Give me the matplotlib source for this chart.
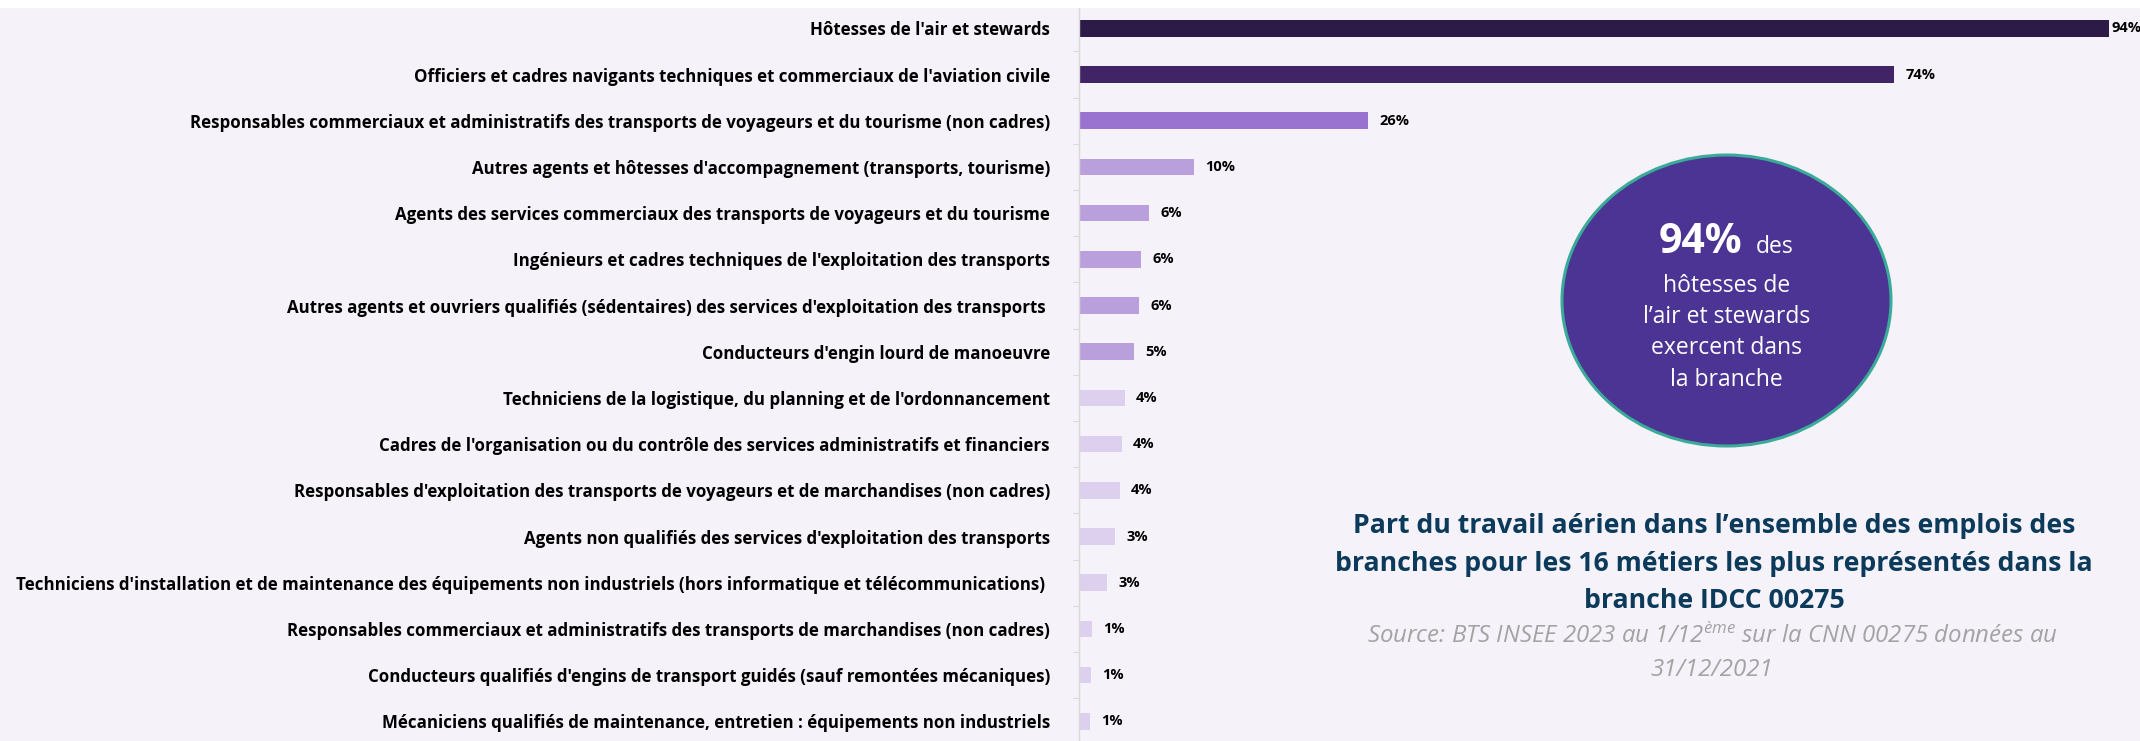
import matplotlib
matplotlib.use("Agg")
import matplotlib.pyplot as plt
from matplotlib.patches import Ellipse, Rectangle
from matplotlib.ticker import FixedLocator

# ---- data -------------------------------------------------------------
metiers = [
    "Hôtesses de l'air et stewards",
    "Officiers et cadres navigants techniques et commerciaux de l'aviation civile",
    "Responsables commerciaux et administratifs des transports de voyageurs et du tourisme (non cadres)",
    "Autres agents et hôtesses d'accompagnement (transports, tourisme)",
    "Agents des services commerciaux des transports de voyageurs et du tourisme",
    "Ingénieurs et cadres techniques de l'exploitation des transports",
    "Autres agents et ouvriers qualifiés (sédentaires) des services d'exploitation des transports ",
    "Conducteurs d'engin lourd de manoeuvre",
    "Techniciens de la logistique, du planning et de l'ordonnancement",
    "Cadres de l'organisation ou du contrôle des services administratifs et financiers",
    "Responsables d'exploitation des transports de voyageurs et de marchandises (non cadres)",
    "Agents non qualifiés des services d'exploitation des transports",
    "Techniciens d'installation et de maintenance des équipements non industriels (hors informatique et télécommunications) ",
    "Responsables commerciaux et administratifs des transports de marchandises (non cadres)",
    "Conducteurs qualifiés d'engins de transport guidés (sauf remontées mécaniques)",
    "Mécaniciens qualifiés de maintenance, entretien : équipements non industriels",
]
part_branche = [94.0, 74.4, 26.4, 10.5, 6.4, 5.7, 5.5, 5.0,
                4.2, 3.9, 3.7, 3.3, 2.6, 1.2, 1.1, 1.0]

titre = [
    "Part du travail aérien dans l\u2019ensemble des emplois des",
    "branches pour les 16 métiers les plus représentés dans la",
    "branche IDCC 00275",
]
source = [
    r"Source: BTS INSEE 2023 au 1/12$^{\mathrm{ème}}$ sur la CNN 00275 données au",
    "31/12/2021",
]
bulle_chiffre = "94%"
bulle_lignes = ["hôtesses de", "l\u2019air et stewards", "exercent dans", "la branche"]

# ---- style ------------------------------------------------------------
plt.rcParams["font.family"] = ["Open Sans", "DejaVu Sans"]
plt.rcParams["mathtext.fontset"] = "custom"
plt.rcParams["mathtext.rm"] = "Open Sans:italic"
plt.rcParams["mathtext.it"] = "Open Sans:italic"

BG = "#f5f2f9"
GRID = "#d9d9d9"


def bar_colour(i):
    if i == 0:
        return "#2c1a47"
    if i == 1:
        return "#412466"
    if i == 2:
        return "#9a72cf"
    if i <= 7:
        return "#b9a0dd"
    return "#ddd0ee"


W, H, DPI = 2140, 741, 100
fig = plt.figure(figsize=(W / DPI, H / DPI), dpi=DPI, facecolor=BG)

# plot area in pixels
x0, top = 1079, 8
px_per_pct = 1030 / 94.0
row_px = 46.2
first_row_px = 28.3
ax = fig.add_axes([x0 / W, 0, (W - x0) / W, (H - top) / H])
ax.set_facecolor(BG)

n = len(metiers)
y = list(range(n))
ax.barh(y, part_branche, height=0.357,
        color=[bar_colour(i) for i in range(n)], zorder=2)

ax.set_xlim(0, (W - x0) / px_per_pct)
y_top = -(first_row_px - top) / row_px
ax.set_ylim(y_top + (H - top) / row_px, y_top)

ax.set_yticks(y)
ax.set_yticklabels(metiers, fontsize=12.2, fontweight="bold", color="black")
ax.tick_params(axis="y", which="major", length=0, pad=21)
ax.yaxis.set_minor_locator(FixedLocator([i + 0.5 for i in range(-1, n)]))
ax.tick_params(axis="y", which="minor", length=4.3, width=0.8, color=GRID)
ax.set_xticks([])
for side in ("top", "right", "bottom"):
    ax.spines[side].set_visible(False)
ax.spines["left"].set_color(GRID)
ax.spines["left"].set_linewidth(1.0)

for i, v in enumerate(part_branche):
    ax.annotate(f"{v:.0f}%", xy=(v, i), xytext=(2 if i == 0 else 8, 0),
                textcoords="offset points", ha="left", va="center",
                fontsize=10.5, fontweight="bold", color="black",
                annotation_clip=False)

# white strip along the top edge
fig.patches.append(Rectangle((0, 1 - top / H), 1, top / H, transform=fig.transFigure,
                             facecolor="white", edgecolor="none", zorder=10))

# highlight bubble
cx, cy = 1726.5, 300.5
bubble = Ellipse((cx / DPI, (H - cy) / DPI), 329 / DPI, 291 / DPI,
                 transform=fig.dpi_scale_trans, facecolor="#4b3494",
                 edgecolor="#3aab98", linewidth=2.2, zorder=5)
fig.patches.append(bubble)


def fy(py):
    return 1 - py / H


fig.text(1742 / W, fy(253), bulle_chiffre, ha="right", va="baseline",
         fontsize=29.5, fontweight="bold", color="white", zorder=6)
fig.text(1756 / W, fy(253), "des", ha="left", va="baseline",
         fontsize=16.5, color="white", zorder=6)
for line, py in zip(bulle_lignes, [292, 323, 354, 386]):
    fig.text(cx / W, fy(py), line, ha="center", va="baseline",
             fontsize=16.5, color="white", zorder=6)

# title and source
for line, py in zip(titre, [533, 571, 608]):
    fig.text(1714 / W, fy(py), line, ha="center", va="baseline",
             fontsize=19.2, fontweight="bold", color="#0b3a5b")
for line, py in zip(source, [643, 676]):
    fig.text(1712 / W, fy(py), line, ha="center", va="baseline",
             fontsize=17.3, fontstyle="italic", color="#a3a3a3")

fig.savefig("out.png", dpi=DPI, facecolor=BG)
